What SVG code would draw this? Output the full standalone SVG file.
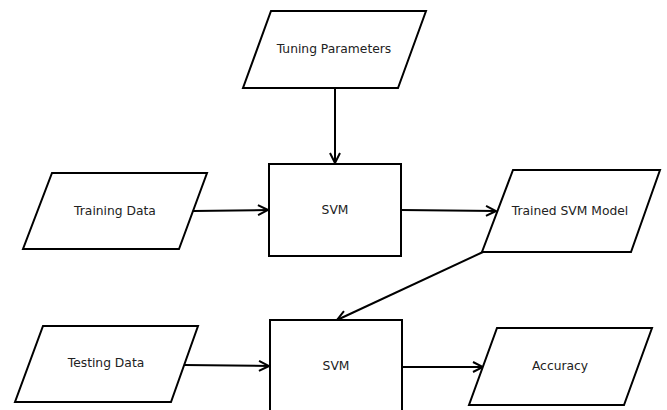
<svg xmlns="http://www.w3.org/2000/svg" width="667" height="410" viewBox="0 0 667 410">
<defs>
<marker id="arr" viewBox="0 0 12 12" refX="11" refY="6" markerWidth="12" markerHeight="12" markerUnits="userSpaceOnUse" orient="auto">
<path d="M1,1 L11,6 L1,11" fill="none" stroke="#000" stroke-width="2"/>
</marker>
<style>
.shape{fill:#fff;stroke:#000;stroke-width:2;stroke-linejoin:miter}
.lbl{font-family:"DejaVu Sans",sans-serif;font-size:12.3px;fill:#222;text-anchor:middle;dominant-baseline:central}
.conn{fill:none;stroke:#000;stroke-width:2;marker-end:url(#arr)}
</style>
</defs>
<rect width="667" height="410" fill="#fff"/>
<g id="connectors">
<line class="conn" x1="335" y1="88" x2="335" y2="163"/>
<line class="conn" x1="193" y1="211" x2="268" y2="210"/>
<line class="conn" x1="401" y1="210" x2="496" y2="211"/>
<line class="conn" x1="483" y1="252" x2="337" y2="320"/>
<line class="conn" x1="184" y1="365" x2="269" y2="366"/>
<line class="conn" x1="402" y1="367" x2="483" y2="367"/>
</g>
<g id="tuning">
<polygon class="shape" points="271,11 426,11 398,88 243,88"/>
<text class="lbl" x="334" y="49">Tuning Parameters</text>
</g>
<g id="training">
<polygon class="shape" points="52,173 207,173 179,249 23,249"/>
<text class="lbl" x="115" y="211">Training Data</text>
</g>
<g id="svm1">
<rect class="shape" x="269" y="164" width="132" height="92"/>
<text class="lbl" x="335" y="210">SVM</text>
</g>
<g id="trained">
<polygon class="shape" points="513,170 660,170 631,252 482,252"/>
<text class="lbl" x="570" y="211">Trained SVM Model</text>
</g>
<g id="testing">
<polygon class="shape" points="43,326 198,326 171,402 15,402"/>
<text class="lbl" x="106" y="363">Testing Data</text>
</g>
<g id="svm2">
<rect class="shape" x="270" y="320" width="132" height="94"/>
<text class="lbl" x="336" y="366">SVM</text>
</g>
<g id="accuracy">
<polygon class="shape" points="497,328 652,328 624,405 469,405"/>
<text class="lbl" x="560" y="366">Accuracy</text>
</g>
</svg>
